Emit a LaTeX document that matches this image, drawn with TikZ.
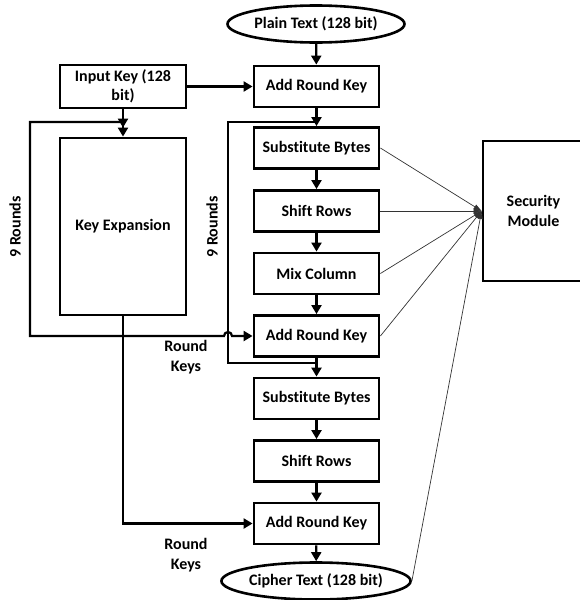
\documentclass[tikz,border=0pt]{standalone}
\usepackage{fontspec}
\setmainfont{Carlito}[Ligatures=NoCommon]
\usetikzlibrary{arrows.meta,shapes.geometric}
\begin{document}
\begin{tikzpicture}[x=1pt,y=-1pt,
  font=\fontsize{16}{19.5}\selectfont\bfseries,
  stagebox/.style={draw, line width=2.8pt, minimum width=125pt, minimum height=41pt, inner sep=0pt, align=center},
  terminal/.style={draw, ellipse, line width=2.6pt, minimum width=177pt, minimum height=37pt, inner sep=0pt},
  flow/.style={line width=2.2pt, -{Triangle[width=10pt,length=9pt]}},
  doubleflow/.style={line width=2.2pt, -{Triangle[width=10pt,length=9pt] Triangle[width=10pt,length=9pt]}},
  plainline/.style={line width=2.2pt},
  probe/.style={line width=0.7pt, draw=black!80, -{Triangle[width=5pt,length=8pt]}},
  note/.style={align=center, inner sep=0pt}]
\useasboundingbox (0,0) rectangle (580,600);
\clip (0,0) rectangle (580,600);

% encryption chain
\node[terminal] (pt) at (316,24) {Plain Text (128 bit)};
\node[stagebox] (ark1) at (316.5,86.5) {Add Round Key};
\node[stagebox] (sb1) at (316.5,148) {Substitute Bytes};
\node[stagebox] (sr1) at (316.5,211) {Shift Rows};
\node[stagebox] (mc) at (316.5,273.5) {Mix Column};
\node[stagebox] (ark2) at (316.5,336) {Add Round Key};
\node[stagebox] (sb2) at (316.5,398.5) {Substitute Bytes};
\node[stagebox] (sr2) at (316.5,461) {Shift Rows};
\node[stagebox] (ark3) at (316.5,523.5) {Add Round Key};
\node[terminal] (ct) at (316,581) {Cipher Text (128 bit)};

% key schedule
\node[stagebox, minimum width=126pt, minimum height=43pt] (ik) at (123,86.5) {Input Key (128\\bit)};
\node[stagebox, minimum width=126pt, minimum height=177pt] (ke) at (123,226.5) {Key Expansion};

% monitor
\node[draw, line width=2.8pt, minimum width=101pt, minimum height=140pt, inner sep=0pt, align=center] (sm) at (533.5,211) {Security\\Module};

% labels
\node[note, rotate=90] (lr1) at (15,227) {9 Rounds};
\node[note, rotate=90] (lr2) at (212,227) {9 Rounds};
\node[note] (rk1) at (186,357) {Round\\Keys};
\node[note] (rk2) at (186,555) {Round\\Keys};

% junction points of the loops
\coordinate (kj) at (123,122);
\coordinate (mj) at (316.5,122);
\coordinate (mb) at (316.5,363);

% main flow
\draw[flow] (pt) -- (ark1);
\draw[flow] (ark1) -- (sb1);
\draw[flow] (sb1) -- (sr1);
\draw[flow] (sr1) -- (mc);
\draw[flow] (mc) -- (ark2);
\draw[flow] (ark2) -- (sb2);
\draw[flow] (sb2) -- (sr2);
\draw[flow] (sr2) -- (ark3);
\draw[flow] (ark3) -- (ct);

% key paths
\draw[flow] (ik) -- (ark1);
\draw[doubleflow] (ik) -- (ke);
\draw[flow] (kj) -- (30,122) -- (30,336) -- (224,336)
  arc[start angle=180, end angle=360, radius=4] -- (ark2.west);
\draw[plainline] (mj) -- (228,122) -- (228,363) -- (mb);
\draw[flow] (ke.south) -- (123,523.5) -- (ark3.west);

% taps into the security module
\draw[probe] (sb1.east) -- (sm.west);
\draw[probe] (sr1.east) -- (sm.west);
\draw[probe] (mc.east) -- (sm.west);
\draw[probe] (ark2.east) -- (sm.west);
\draw[probe] (ct.east) -- (sm.west);
\end{tikzpicture}
\end{document}
